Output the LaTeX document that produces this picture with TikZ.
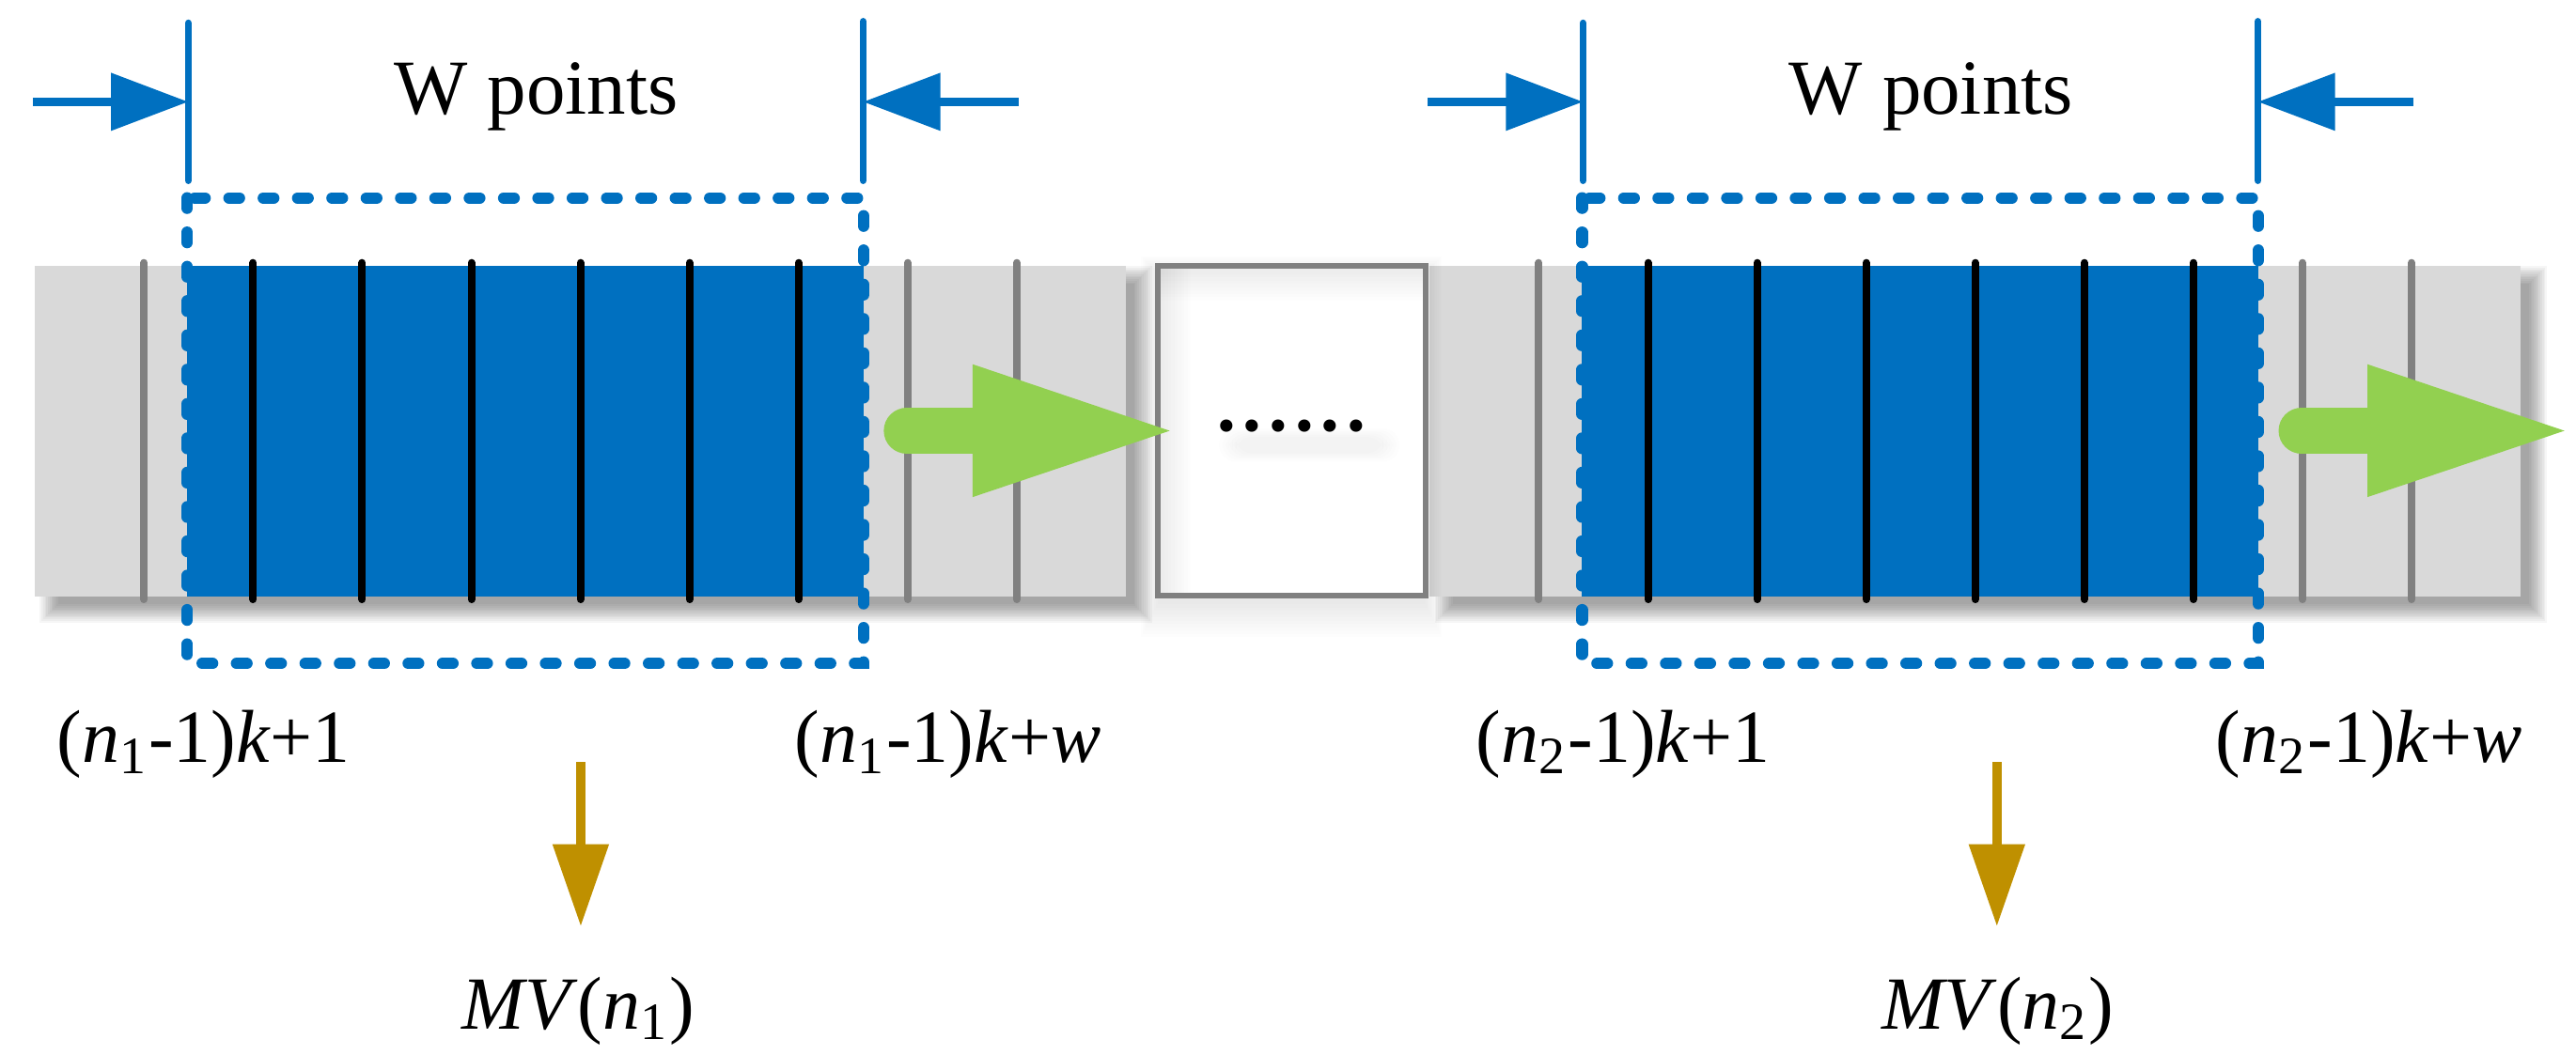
\documentclass[tikz,border=0pt]{standalone}
\usepackage{fontspec}
\setmainfont{Liberation Serif}
\usetikzlibrary{arrows.meta, positioning}

\definecolor{winblue}{RGB}{0,112,192}
\definecolor{slidegreen}{RGB}{146,208,80}
\definecolor{mvgold}{RGB}{191,144,0}
\definecolor{cellgray}{RGB}{217,217,217}
\definecolor{tickgray}{RGB}{128,128,128}

\begin{document}
\begin{tikzpicture}[x=0.1mm, y=-0.1mm,
    tick/.style={line width=1.3pt, line cap=round},
    winbox/.style={draw=winblue, line width=0.7mm, line cap=round,
                   dash pattern=on 0.63mm off 1.46mm},
    edgeline/.style={draw=winblue, line width=0.42mm, line cap=round},
    dimarrow/.style={draw=winblue, line width=0.5mm,
                     -{Triangle[length=4.7mm, width=3.4mm]}},
    mvarrow/.style={draw=mvgold, line width=0.55mm, shorten >=3mm,
                    -{Triangle[length=5mm, width=3.3mm]}},
    lbl/.style={font=\fontsize{13}{15}\selectfont, inner sep=0pt, anchor=base}]
    \useasboundingbox (0,0) rectangle (1568,642.4);

    % data strips, the second one shifted by 849
    \foreach \sx in {0, 849} {
        \foreach \d in {0,...,11}
            \fill[black, opacity=0.035] (\sx+35.3-\d,173-\d) rectangle (\sx+690.3+\d,368+\d);
        \fill[cellgray] (\sx+21.3,162) rectangle (\sx+685.3,363);
        \fill[winblue] (\sx+114,162) rectangle (\sx+525.6,363);
        \foreach \k/\c in {1/tickgray, 2/black, 3/black, 4/black, 5/black,
                           6/black, 7/black, 8/tickgray, 9/tickgray}
            \draw[tick, \c] (\sx+21.3+66.4*\k,160) -- (\sx+21.3+66.4*\k,365);
    }

    % gap box between the windows
    \foreach \d in {0,...,10}
        \fill[black, opacity=0.008] (704.6-\d,166-\d) rectangle (867.7+\d,368+2*\d);
    \node[draw=tickgray, line width=1pt, fill=white, inner sep=0pt,
          minimum width=16.31mm, minimum height=20.08mm] (gap) at (786.15,262.4) {};
    \foreach \d in {1,...,9} {
        \fill[black, opacity=0.009] (706.3,163.7) rectangle (866,165+2*\d);
        \fill[black, opacity=0.008] (706.3,163.7) rectangle (707+2*\d,361.1);
    }
    \foreach \d in {0,...,5}
        \fill[black, opacity=0.006, rounded corners=1mm] (752-2*\d,266-\d) rectangle (842+2*\d,276+\d);
    \node[font=\fontsize{18}{20}\selectfont, inner sep=0pt] (dots) at ([yshift=0.3mm]gap.center) {......};

    % windows of W points
    \foreach \sx/\n in {0/1, 849/2} {
        \coordinate (topL\n) at (\sx+114.6,14);
        \coordinate (botL\n) at (\sx+114.6,110);
        \coordinate (topR\n) at (\sx+525.4,13);
        \coordinate (botR\n) at (\sx+525.4,110);
        \coordinate (inL\n) at (\sx+20,62);
        \coordinate (inR\n) at (\sx+620,62);
        \draw[edgeline] (topL\n) -- (botL\n);
        \draw[edgeline] (topR\n) -- (botR\n);
        \draw[dimarrow] (inL\n) -- (topL\n |- inL\n);
        \draw[dimarrow] (inR\n) -- (topR\n |- inR\n);
        \node[lbl, font=\fontsize{13.5}{15}\selectfont] (wtxt\n) at (\sx+326.5,69.6) {W points};
        \draw[winbox] (\sx+114,120.5) rectangle (\sx+525.6,404);
        % sliding step
        \draw[slidegreen, line width=2.81mm, line cap=round] (\sx+552,262.3) -- (\sx+600,262.3);
        \fill[slidegreen] (\sx+592,221.8) -- (\sx+712,262.3) -- (\sx+592,302.7) -- cycle;
    }

    % window bounds and mean values
    \node[lbl] (start1) at (124,464.5) {(\textit{n}\textsubscript{1}-1)\textit{k}+1};
    \node[lbl] (end1) at (577,464.5) {(\textit{n}\textsubscript{1}-1)\textit{k}+\textit{w}};
    \node[lbl] (start2) at (988,464.5) {(\textit{n}\textsubscript{2}-1)\textit{k}+1};
    \node[lbl] (end2) at (1442,464.5) {(\textit{n}\textsubscript{2}-1)\textit{k}+\textit{w}};
    \node[lbl] (mv1) at (352,626.4) {\textit{MV}(\textit{n}\textsubscript{1})};
    \node[lbl] (mv2) at (1216,626.4) {\textit{MV}(\textit{n}\textsubscript{2})};
    \coordinate (mvtop1) at (353.5,464);
    \coordinate (mvtop2) at (1215.5,464);
    \draw[mvarrow] (mvtop1) -- (mvtop1 |- mv1.north);
    \draw[mvarrow] (mvtop2) -- (mvtop2 |- mv2.north);
\end{tikzpicture}
\end{document}
